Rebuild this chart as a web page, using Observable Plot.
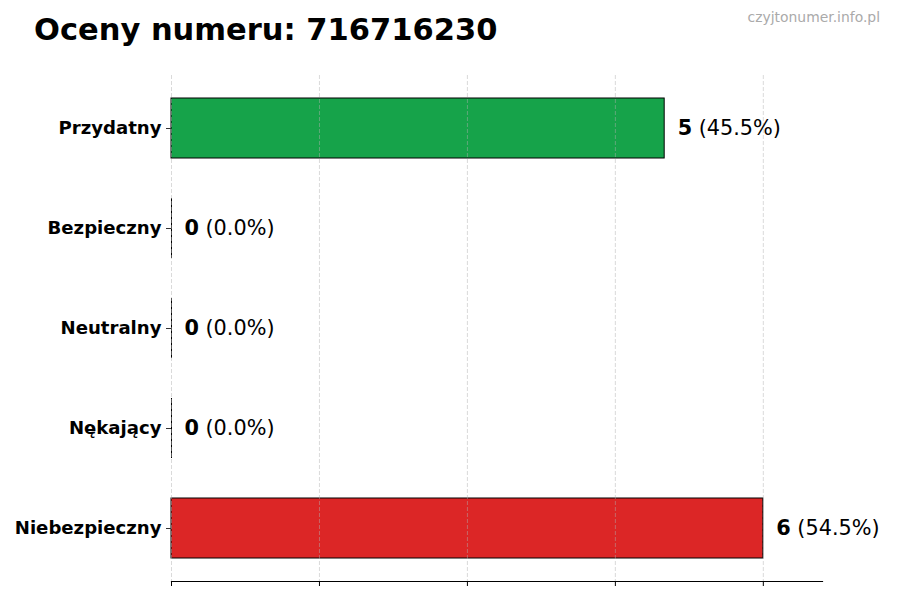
<!DOCTYPE html>
<html>
<head>
<meta charset="utf-8">
<script src="https://cdn.jsdelivr.net/npm/d3@7"></script>
<script src="https://cdn.jsdelivr.net/npm/@observablehq/plot@0.6"></script>
<style>
  html, body { margin: 0; padding: 0; background: #fff; }
  #wrap { position: relative; width: 900px; height: 600px; font-family: "DejaVu Sans", sans-serif; }
  #title { position: absolute; left: 34px; top: 15px; margin: 0; font-size: 30.5px; line-height: 30px; font-weight: bold; color: #000; white-space: nowrap; }
  #mark { position: absolute; right: 20px; top: 11px; font-size: 13.9px; line-height: 13.5px; color: #aaaaaa; white-space: nowrap; }
  #chart { position: absolute; left: 0; top: 0; }
</style>
</head>
<body>
<div id="wrap">
  <div id="chart"></div>
  <h1 id="title">Oceny numeru: 716716230</h1>
  <div id="mark">czyjtonumer.info.pl</div>
</div>
<script>
const categories = ["Przydatny", "Bezpieczny", "Neutralny", "Nękający", "Niebezpieczny"];
const counts = [5, 0, 0, 0, 6];
const percentLabels = ["(45.5%)", "(0.0%)", "(0.0%)", "(0.0%)", "(54.5%)"];
const barColors = ["#16a34a", "#2563eb", "#6b7280", "#f59e0b", "#dc2626"];
const xTicks = [0, 1.5, 3, 4.5, 6];
const xMax = 6.6;

const data = categories.map((c, i) => ({
  category: c, value: counts[i], pct: percentLabels[i], color: barColors[i]
}));

const chart = Plot.plot({
  width: 900,
  height: 600,
  marginLeft: 171,
  marginRight: 78,
  marginTop: 75,
  marginBottom: 19,
  style: { fontFamily: "DejaVu Sans, sans-serif", color: "#000", background: "transparent", overflow: "visible" },
  x: { domain: [0, xMax] },
  y: { domain: categories, paddingInner: 0.4, paddingOuter: 0.2, insetTop: 3, insetBottom: 3 },
  color: { type: "identity" },
  marks: [
    Plot.barX(data, { x: "value", y: "category", fill: "color", stroke: "#000", strokeWidth: 1 }),
    Plot.tickX(data.filter(d => d.value === 0), { x: "value", y: "category", stroke: "#000", strokeWidth: 1 }),
    Plot.ruleX(xTicks, { stroke: "#b0b0b0", strokeOpacity: 0.6, strokeDasharray: "4,2", strokeWidth: 0.8 }),
    Plot.frame({ anchor: "bottom", stroke: "#000", strokeWidth: 1.2 }),
    Plot.axisX({ ticks: xTicks, tickSize: 5, tickFormat: () => "", label: null, stroke: "#000" }),
    Plot.axisY({ tickSize: 5, tickPadding: 5, fontSize: 18.1, fontWeight: "bold", label: null, stroke: "#333" }),
    Plot.text(data, { x: "value", y: "category", text: d => String(d.value), dx: 13, textAnchor: "start", fontWeight: "bold", fontSize: 20.8, fill: "#000" }),
    Plot.text(data, { x: "value", y: "category", text: "pct", dx: 34, textAnchor: "start", fontSize: 20.8, fill: "#000" })
  ]
});
document.getElementById("chart").appendChild(chart);
</script>
</body>
</html>
